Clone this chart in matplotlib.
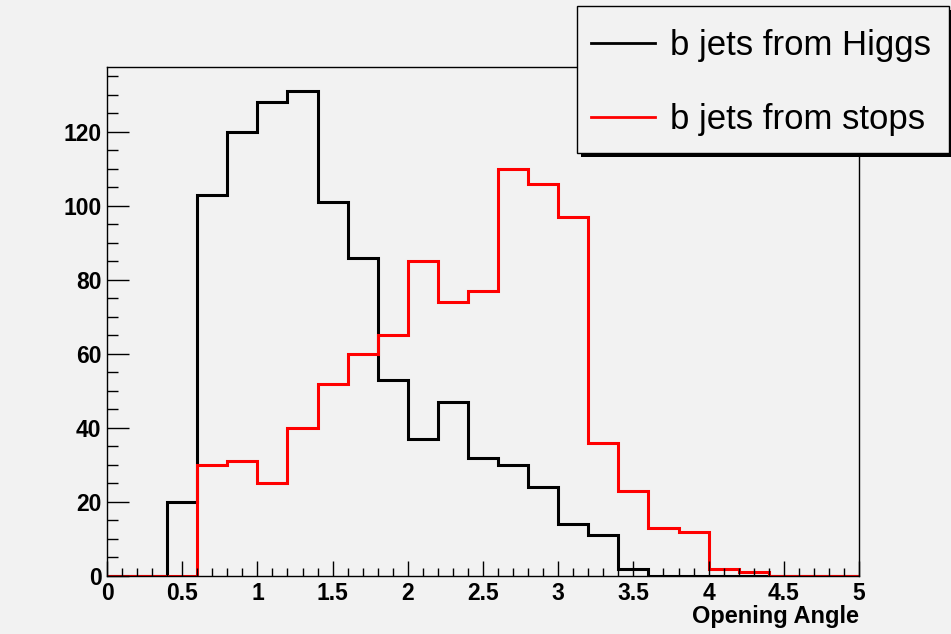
import numpy as np
import matplotlib
matplotlib.use("Agg")
import matplotlib.pyplot as plt
from matplotlib.patches import Rectangle
from matplotlib.lines import Line2D
from matplotlib.ticker import MultipleLocator

# ---- data (25 bins of width 0.2 over 0..5) ----
x_min, x_max, n_bins = 0.0, 5.0, 25
higgs = [0, 0, 20, 103, 120, 128, 131, 101, 86, 53, 37, 47, 32, 30, 24, 14, 11, 2,
         0, 0, 0, 0, 0, 0, 0]
stops = [0, 0, 0, 30, 31, 25, 40, 52, 60, 65, 85, 74, 77, 110, 106, 97, 36, 23,
         13, 12, 2, 1, 0, 0, 0]
labels = ["b jets from Higgs", "b jets from stops"]
xlabel = "Opening Angle"
yticks = [0, 20, 40, 60, 80, 100, 120]
xticks = [0, 0.5, 1, 1.5, 2, 2.5, 3, 3.5, 4, 4.5, 5]
xtick_labels = ["0", "0.5", "1", "1.5", "2", "2.5", "3", "3.5", "4", "4.5", "5"]

edges = np.linspace(x_min, x_max, n_bins + 1)

W, H = 951, 634
bg = "#f2f2f2"
fig = plt.figure(figsize=(W / 100, H / 100), dpi=100, facecolor=bg)
ax = fig.add_axes([107 / W, (H - 576) / H, (859 - 107) / W, (576 - 67) / H])
ax.set_facecolor(bg)

h1 = ax.stairs(higgs, edges, color="black", lw=2.2, baseline=0)
h2 = ax.stairs(stops, edges, color="#ff0000", lw=2.2, baseline=0)

ymax = 1.05 * max(max(higgs), max(stops))
ax.set_xlim(x_min, x_max)
ax.set_ylim(0, ymax)

ax.set_yticks(yticks)
ax.set_yticklabels([str(v) for v in yticks])
ax.yaxis.set_minor_locator(MultipleLocator(5))
ax.set_xticks(xticks)
ax.set_xticklabels(xtick_labels)
ax.xaxis.set_minor_locator(MultipleLocator(0.1))

font = "Liberation Sans"
ax.tick_params(axis="both", which="both", direction="in", colors="black",
               width=1.0, top=False, right=False)
ax.tick_params(axis="y", which="major", length=16, pad=4)
ax.tick_params(axis="y", which="minor", length=8)
ax.tick_params(axis="x", which="major", length=11, pad=4.5)
ax.tick_params(axis="x", which="minor", length=5.5)
for lab in ax.get_xticklabels() + ax.get_yticklabels():
    lab.set_fontfamily(font)
    lab.set_fontweight("bold")
    lab.set_fontsize(16.5)

for s in ax.spines.values():
    s.set_linewidth(1.0)
    s.set_color("black")

ax.set_xlabel(xlabel, fontfamily=font, fontweight="bold", fontsize=17)
ax.xaxis.set_label_coords(1.0, (576 - 617) / (576 - 67))
ax.xaxis.label.set_ha("right")
ax.xaxis.label.set_va("center")

# legend box with ROOT-style shadow
bx0, by0, bx1, by1 = 577, 6, 949, 153
sh = 4
fig.patches.append(Rectangle(((bx0 + sh) / W, 1 - (by1 + sh) / H),
                             (bx1 - bx0) / W, (by1 - by0) / H,
                             transform=fig.transFigure, facecolor="black",
                             edgecolor="black", lw=0, zorder=5))
fig.patches.append(Rectangle((bx0 / W, 1 - by1 / H), (bx1 - bx0) / W, (by1 - by0) / H,
                             transform=fig.transFigure, facecolor=bg,
                             edgecolor="black", lw=1.0, zorder=6))
handles = [Line2D([], [], color="black", lw=2.0), Line2D([], [], color="#ff0000", lw=2.0)]
leg = fig.legend(handles, labels, loc="center left",
                 bbox_to_anchor=(591 / W, 1 - 82.5 / H), frameon=False,
                 prop={"family": font, "size": 25}, handlelength=1.85,
                 handletextpad=0.43, labelspacing=1.2, borderpad=0, borderaxespad=0)
leg.set_zorder(7)

fig.savefig("out.png", dpi=100, facecolor=bg)
